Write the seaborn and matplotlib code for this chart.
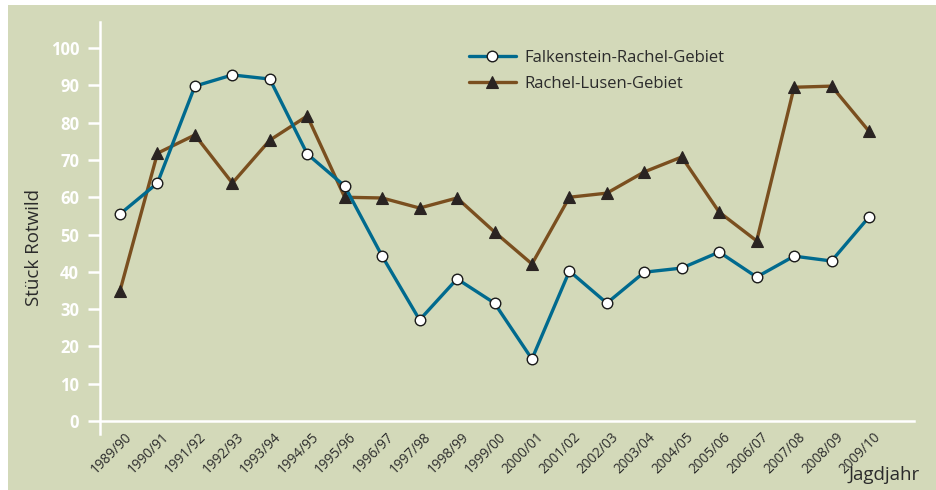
import matplotlib
matplotlib.use("Agg")
import matplotlib.pyplot as plt
import matplotlib.transforms as mtransforms
from matplotlib.patches import Rectangle
import seaborn as sns
import pandas as pd
import numpy as np

seasons = ["1989/90", "1990/91", "1991/92", "1992/93", "1993/94", "1994/95", "1995/96",
           "1996/97", "1997/98", "1998/99", "1999/00", "2000/01", "2001/02", "2002/03",
           "2003/04", "2004/05", "2005/06", "2006/07", "2007/08", "2008/09", "2009/10"]
falkenstein = [55.5, 63.8, 89.8, 92.8, 91.7, 71.6, 63.0, 44.2, 27.1, 38.1, 31.6,
               16.6, 40.2, 31.6, 39.9, 41.0, 45.3, 38.6, 44.2, 42.9, 54.7]
rachel_lusen = [34.9, 71.8, 76.7, 63.8, 75.3, 81.8, 60.0, 59.8, 57.1, 59.8, 50.7,
                42.1, 60.0, 61.1, 66.8, 70.8, 56.0, 48.3, 89.5, 89.8, 77.7]
series_names = ["Falkenstein-Rachel-Gebiet", "Rachel-Lusen-Gebiet"]
y_ticks = [0, 10, 20, 30, 40, 50, 60, 70, 80, 90, 100]
y_label = "Stück Rotwild"
x_label = "Jagdjahr"

BG = "#d3d9b9"
BLUE = "#006a8e"
BROWN = "#7a4f1f"
TEXT = "#2b2b2b"

sns.set_theme(style="white")
plt.rcParams["font.family"] = ["Open Sans", "DejaVu Sans"]

fig = plt.figure(figsize=(9.36, 4.9), dpi=100)
fig.patch.set_facecolor("white")
fig.patches.append(Rectangle((8 / 936, 0), 1 - 8 / 936, 1 - 5 / 490,
                             transform=fig.transFigure, facecolor=BG,
                             edgecolor="none", zorder=-10))

ax = fig.add_axes([100 / 936, (490 - 434) / 490, 814 / 936, 412 / 490])
ax.set_facecolor("none")

pos = np.arange(len(seasons))
df1 = pd.DataFrame({"x": pos, "y": falkenstein})
df2 = pd.DataFrame({"x": pos, "y": rachel_lusen})

sns.lineplot(data=df1, x="x", y="y", ax=ax, color=BLUE, lw=2.4,
             marker="o", markersize=7.6, markerfacecolor="white",
             markeredgecolor="#1a1a1a", markeredgewidth=1.0,
             label=series_names[0], zorder=4)
sns.lineplot(data=df2, x="x", y="y", ax=ax, color=BROWN, lw=2.4,
             marker="^", markersize=8.3, markerfacecolor="#2a2422",
             markeredgecolor="#2a2422", markeredgewidth=0.8,
             label=series_names[1], zorder=3)

ax.set_xlim((100 - 120) / 37.45, (914 - 120) / 37.45)
ax.set_ylim(-3.5, 107)

for s in ["top", "right"]:
    ax.spines[s].set_visible(False)
ax.spines["left"].set_color("white")
ax.spines["left"].set_linewidth(1.8)
ax.spines["bottom"].set_position(("data", 0))
ax.spines["bottom"].set_color("white")
ax.spines["bottom"].set_linewidth(1.8)
ax.spines["bottom"].set_zorder(2)

ax.set_yticks(y_ticks)
ax.set_yticklabels([str(v) for v in y_ticks], fontsize=12, fontweight="bold",
                   color="white")
ax.tick_params(axis="y", which="both", left=True, length=9, width=1.8,
               color="white", pad=6)

ax.set_xticks(pos)
ax.set_xticklabels(seasons, rotation=45, ha="right", rotation_mode="anchor",
                   fontsize=9.8, color=TEXT)
ax.tick_params(axis="x", which="both", bottom=False, length=0, pad=0)
# labels hang below the axes bottom (not below the 0 line)
for lab in ax.get_xticklabels():
    lab.set_transform(ax.get_xaxis_transform() +
                      mtransforms.ScaledTranslation(4 / 100, 4 / 100, fig.dpi_scale_trans))
    lab.set_y(0)

ax.set_xlabel("")
ax.set_ylabel(y_label, fontsize=13.5, color=TEXT)
ax.yaxis.set_label_coords(-57 / 814, (434 - 248) / 412)

fig.text(920 / 936, (490 - 480) / 490, x_label, ha="right", va="baseline",
         fontsize=13.5, color=TEXT)

leg = ax.legend(loc="upper left", bbox_to_anchor=((469 - 100) / 814, (434 - 50) / 412),
                frameon=False, fontsize=12, handlelength=2.8, handletextpad=0.55,
                labelspacing=0.62, borderaxespad=0, borderpad=0)
for t in leg.get_texts():
    t.set_color(TEXT)

fig.savefig("out.png", dpi=100, facecolor=fig.get_facecolor())
